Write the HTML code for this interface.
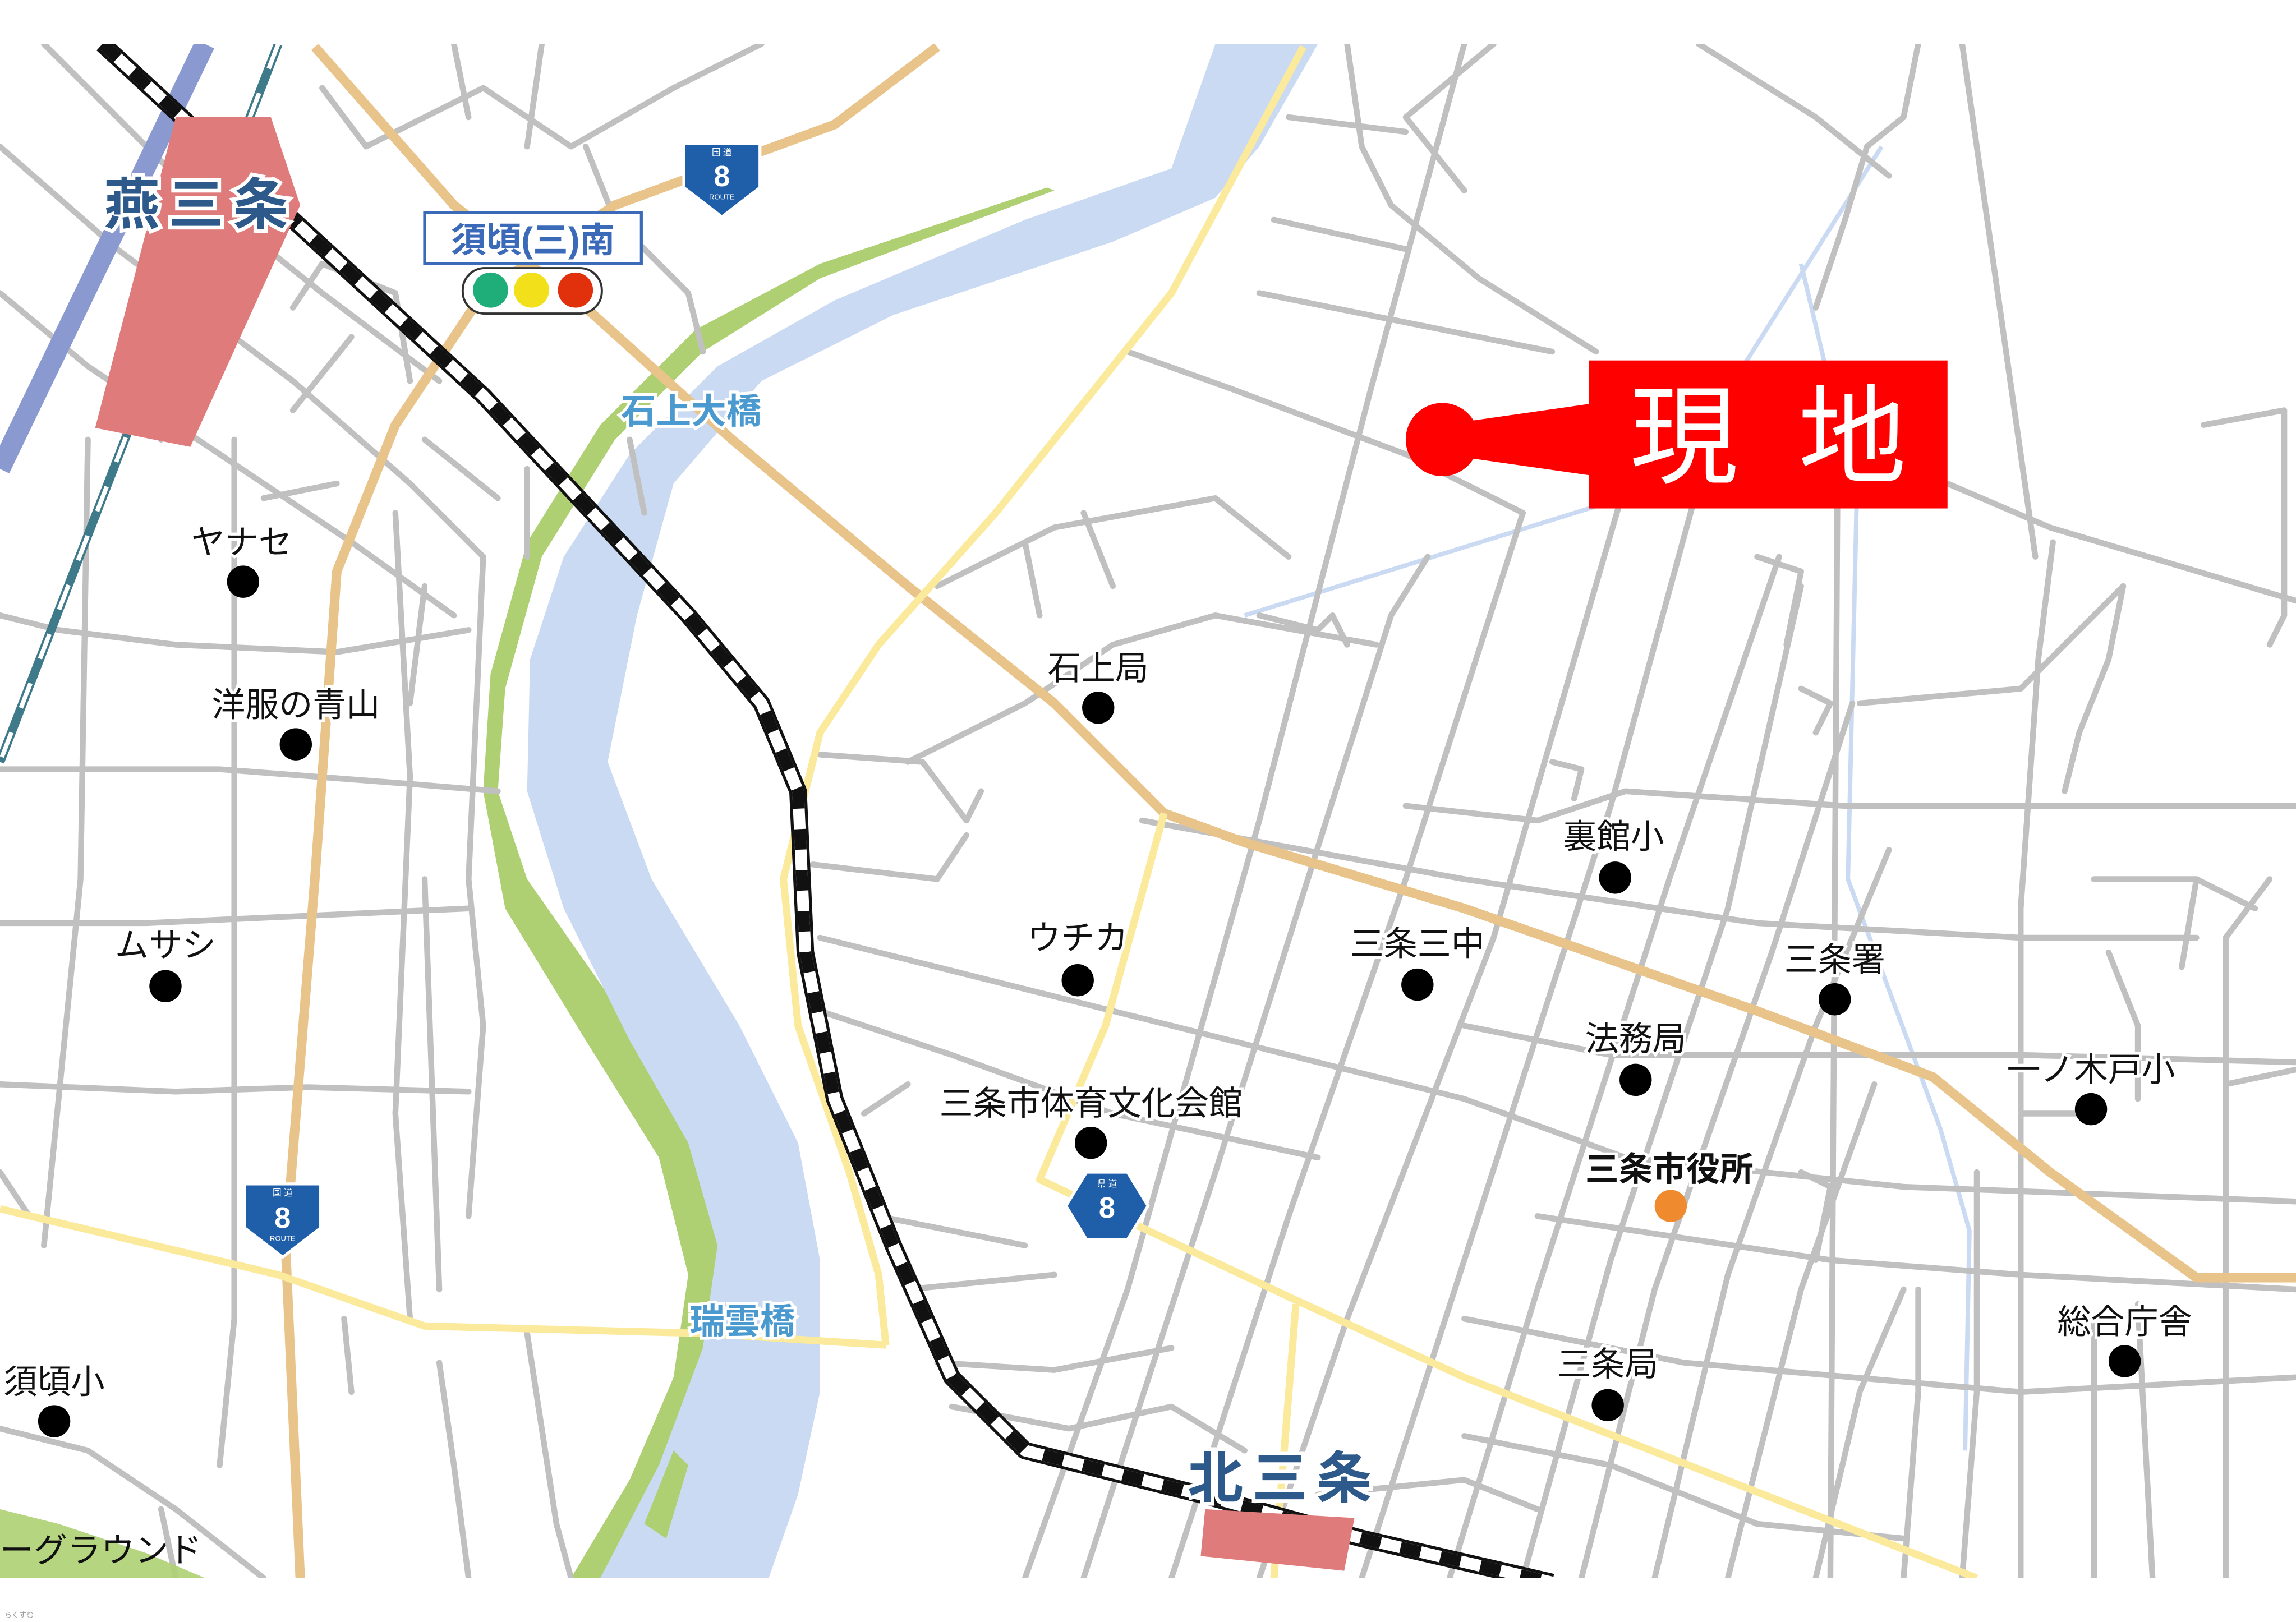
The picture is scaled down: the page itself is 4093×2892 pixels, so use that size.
<!DOCTYPE html>
<html><head><meta charset="utf-8"><style>
html,body{margin:0;padding:0;background:#fff;}
svg{display:block}
text{font-family:"Liberation Sans","Noto Sans CJK JP",sans-serif;}
</style></head><body>
<svg width="4093" height="2892" viewBox="0 0 1568 1107" preserveAspectRatio="none" xmlns="http://www.w3.org/2000/svg">
<rect width="1568" height="1107" fill="#fff"/>
<defs><clipPath id="c"><rect x="0" y="30" width="1568" height="1047"/></clipPath></defs>
<g clip-path="url(#c)">
<path d="M720,130 L560,190 L480,240 L420,300 L370,380 L345,470 L340,540 L360,600 L430,700 L480,780 L500,860 L495,950 L470,1020 L440,1077 L390,1077 L430,1010 L460,940 L470,870 L450,790 L400,710 L345,620 L330,540 L335,460 L360,370 L410,290 L475,225 L560,180 L715,128 Z" fill="#aed072"/>
<path d="M830,30 L900,30 L860,100 L830,135 L760,165 L610,215 L520,260 L460,330 L435,420 L415,520 L445,600 L505,700 L545,780 L560,860 L560,950 L545,1020 L525,1077 L410,1077 L450,1000 L480,920 L490,850 L470,780 L430,710 L385,620 L360,540 L362,450 L385,380 L430,310 L490,250 L570,205 L700,150 L800,115 Z" fill="#c9daf2"/>
<path d="M440,1040 L460,990 L470,1000 L455,1050 Z" fill="#aed072"/>
<g stroke="#c9daf2" stroke-width="3" fill="none">
<path d="M1285,100 L1140,330 L850,420"/>
<path d="M1230,180 L1268,340 L1262,600 L1325,770 L1345,840 L1342,990"/>
</g>
<g stroke="#c0c0c0" stroke-width="4" fill="none" stroke-linecap="round" stroke-linejoin="round">
<path d="M0,100 L80,170 L200,260 L280,330 L330,380"/>
<path d="M0,200 L60,250 L150,310 L240,370 L310,420"/>
<path d="M30,30 L120,120 L220,200 L300,260"/>
<path d="M0,420 L40,430 L120,440 L230,445 L320,430"/>
<path d="M0,525 L150,525 L280,535 L340,540"/>
<path d="M0,630 L100,630 L210,625 L320,620"/>
<path d="M0,740 L120,745 L210,742 L320,745"/>
<path d="M0,800 L20,830"/>
<path d="M0,975 L60,990 L120,1030 L180,1077"/>
<path d="M120,1077 L110,1030"/>
<path d="M300,930 L310,1000 L320,1077"/>
<path d="M360,910 L380,1040 L390,1077"/>
<path d="M235,900 L240,950"/>
<path d="M160,300 L160,900 L150,1000"/>
<path d="M270,350 L280,530 L270,760 L280,900"/>
<path d="M100,170 L110,300"/>
<path d="M330,380 L320,600 L330,700 L320,830"/>
<path d="M290,600 L300,880"/>
<path d="M60,300 L55,600 L30,850"/>
<path d="M220,60 L250,100 L330,60 L390,100 L460,60 L520,30"/>
<path d="M310,30 L320,80 M370,30 L360,100 M400,100 L420,150 L470,200 L480,240"/>
<path d="M200,210 L220,180 L270,200 L280,260 M240,230 L200,280"/>
<path d="M180,340 L230,330 M290,300 L340,340"/>
<path d="M700,1077 L770,880 L860,560 L935,270 L1000,30"/>
<path d="M740,1077 L830,800 L950,420 L975,380"/>
<path d="M800,1077 L880,830 L960,600 L1040,350"/>
<path d="M860,1077 L920,900 L1020,640 L1110,330"/>
<path d="M930,1077 L1000,860 L1100,550 L1160,330"/>
<path d="M990,1077 L1050,880 L1140,600 L1215,380"/>
<path d="M1040,1077 L1100,860 L1180,620 L1230,400"/>
<path d="M1080,1077 L1130,880 L1210,650 L1265,480"/>
<path d="M1130,1077 L1180,870 L1240,700 L1290,580"/>
<path d="M1180,1077 L1230,880 L1280,740"/>
<path d="M1240,1077 L1270,950 L1300,880"/>
<path d="M1300,1077 L1310,950 L1310,880"/>
<path d="M1250,1077 L1255,310"/>
<path d="M1340,1077 L1350,950 L1350,800"/>
<path d="M1380,1077 L1380,620 L1392,450 L1402,370"/>
<path d="M1390,380 L1340,30"/>
<path d="M1310,30 L1300,80 L1275,100 L1260,150 L1240,210"/>
<path d="M1430,1077 L1430,900 M1470,1077 L1460,890 M1520,1077 L1520,640 L1550,600"/>
<path d="M1505,290 L1560,280 L1560,420 L1550,440"/>
<path d="M1490,660 L1500,600 L1540,620"/>
<path d="M1160,30 L1240,80 L1290,120"/>
<path d="M1020,30 L960,80 L1000,130"/>
<path d="M920,30 L930,100 L950,140 L1010,190 L1090,240"/>
<path d="M880,80 L960,90 M870,150 L960,170"/>
<path d="M860,200 L1060,240"/>
<path d="M770,240 L840,265 L960,310 L1040,350"/>
<path d="M1330,330 L1400,360 L1568,410"/>
<path d="M640,400 L720,360 L830,340 L880,380 M700,370 L710,420 M740,350 L760,400 M860,420 L900,430 L910,420 L920,440"/>
<path d="M620,520 L700,480 L760,440 L830,420 L940,440"/>
<path d="M560,515 L630,520 L660,560 L670,540 M555,590 L640,600 L660,570"/>
<path d="M560,640 L800,700 L1000,750 L1110,790 L1300,810 L1568,820"/>
<path d="M560,690 L650,720 L760,760 L900,790"/>
<path d="M590,760 L620,740 M600,830 L700,850 M620,880 L720,870 M640,930 L720,935 L800,920 M650,960 L730,975 L800,960 L850,990"/>
<path d="M780,560 L1000,600 L1200,630 L1380,640 L1500,640"/>
<path d="M960,550 L1050,560 L1110,540 L1260,550 L1380,550 L1568,550"/>
<path d="M1000,700 L1100,720 L1380,720 L1568,725"/>
<path d="M1050,830 L1250,860 L1380,870 L1568,880"/>
<path d="M1000,900 L1150,930 L1380,950 L1568,940"/>
<path d="M1000,980 L1100,1000 L1200,1040 L1300,1050"/>
<path d="M900,1020 L1000,1010 L1050,1030"/>
<path d="M1270,480 L1380,470 L1420,430 L1450,400 L1440,450 L1420,500 L1410,540"/>
<path d="M1200,380 L1230,390 L1220,440 M1230,470 L1250,480 L1240,500"/>
<path d="M1060,520 L1080,525 L1075,545"/>
<path d="M1430,600 L1500,600 M1380,760 L1420,760"/>
<path d="M1440,650 L1460,700 L1460,750"/>
<path d="M1520,740 L1568,730"/>
<path d="M1230,800 L1250,810 L1240,860"/>
<path d="M430,300 L440,350 M360,320 L360,380 M290,400 L280,480"/>
</g>
<g stroke="#e9c48a" stroke-width="6.5" fill="none" stroke-linejoin="round">
<path d="M640,32 L570,85 L420,140 L330,200 L270,290 L230,390 L215,600 L195,850 L205,1077"/>
<path d="M215,32 L310,140 L400,210 L500,300 L620,400 L720,480 L795,555 L850,575 L1000,620 L1200,690 L1320,735 L1400,800 L1500,872 L1568,872"/>
</g>
<g stroke="#fbea9b" stroke-width="5" fill="none" stroke-linejoin="round">
<path d="M890,32 L800,200 L680,350 L600,440 L560,500 L535,600 L545,700 L580,800 L600,870 L605,918"/>
<path d="M0,825 L190,870 L290,905 L480,910 L605,918"/>
<path d="M795,555 L755,700 L710,805 L880,885 L1000,940 L1350,1077"/>
<path d="M885,890 L870,1077"/>
</g>
<path d="M140,30 L0,320" stroke="#8a9ad0" stroke-width="14" fill="none"/>
<path d="M190,30 L0,520" stroke="#3f7a8a" stroke-width="6" fill="none"/>
<path d="M190,30 L0,520" stroke="#fff" stroke-width="3" stroke-dasharray="18 18" fill="none"/>
<g fill="none" stroke-linejoin="round">
<path d="M70,30 L200,150 L330,270 L470,420 L520,480 L545,540 L550,650 L570,750 L610,850 L650,940 L700,990 L820,1020 L930,1050 L1060,1080" stroke="#111" stroke-width="12"/>
<path d="M70,30 L200,150 L330,270 L470,420 L520,480 L545,540 L550,650 L570,750 L610,850 L650,940 L700,990 L820,1020 L930,1050 L1060,1080" stroke="#fff" stroke-width="8"/>
<path d="M70,30 L200,150 L330,270 L470,420 L520,480 L545,540 L550,650 L570,750 L610,850 L650,940 L700,990 L820,1020 L930,1050 L1060,1080" stroke="#111" stroke-width="8" stroke-dasharray="14 14"/>
</g>
<path d="M120,80 L185,80 L205,140 L130,305 L65,292 Z" fill="#e07b7b"/>
<path d="M823,1030 L925,1036 L918,1072 L820,1062 Z" fill="#e07b7b"/>
</g>
<circle cx="985" cy="300" r="25" fill="#f00"/>
<path d="M985,290 L1090,275 L1090,325 L985,310 Z" fill="#f00"/>
<rect x="1085" y="246" width="245" height="101" fill="#f00"/>
<text x="1150" y="324" font-size="74" fill="#fff" text-anchor="middle">現</text>
<text x="1265" y="324" font-size="74" fill="#fff" text-anchor="middle">地</text>
<g font-weight="bold" fill="#2d5a8a" stroke="#fff" stroke-width="5" paint-order="stroke" text-anchor="middle">
<text x="137" y="153" font-size="38" letter-spacing="6">燕三条</text>
<text x="877" y="1022" font-size="38" letter-spacing="6">北三条</text>
</g>
<g fill="#4a9ad0" stroke="#fff" stroke-width="4" paint-order="stroke" text-anchor="middle" font-size="24" font-weight="bold">
<text x="472" y="289">石上大橋</text>
<text x="507" y="910">瑞雲橋</text>
</g>
<rect x="290" y="145" width="148" height="35" fill="#fff" stroke="#3b6ab8" stroke-width="2"/>
<text x="364" y="172" font-size="24" font-weight="bold" fill="#3b6ab8" text-anchor="middle">須頃(三)南</text>
<rect x="316" y="183" width="95" height="31" rx="15" fill="#fff" stroke="#333" stroke-width="1.5"/>
<circle cx="335" cy="198" r="12" fill="#1fae7a"/>
<circle cx="363" cy="198" r="12" fill="#f2e01a"/>
<circle cx="393" cy="198" r="12" fill="#e0300c"/>
<g>
<path d="M467,98 L519,98 L519,128 L493,148 L467,128 Z" fill="#1f5ea8" stroke="#fff" stroke-width="2"/>
<text x="493" y="106" font-size="6" fill="#fff" text-anchor="middle">国 道</text>
<text x="493" y="127" font-size="20" font-weight="bold" fill="#fff" text-anchor="middle">8</text>
<text x="493" y="136" font-size="5" fill="#fff" text-anchor="middle">ROUTE</text>
<path d="M167,808 L219,808 L219,838 L193,858 L167,838 Z" fill="#1f5ea8" stroke="#fff" stroke-width="2"/>
<text x="193" y="816" font-size="6" fill="#fff" text-anchor="middle">国 道</text>
<text x="193" y="838" font-size="20" font-weight="bold" fill="#fff" text-anchor="middle">8</text>
<text x="193" y="847" font-size="5" fill="#fff" text-anchor="middle">ROUTE</text>
<path d="M742,800 L770,800 L784,823 L770,846 L742,846 L728,823 Z" fill="#1f5ea8" stroke="#fff" stroke-width="2"/>
<text x="756" y="810" font-size="6" fill="#fff" text-anchor="middle">県 道</text>
<text x="756" y="831" font-size="20" font-weight="bold" fill="#fff" text-anchor="middle">8</text>
</g>
<path d="M0,1030 L40,1040 L100,1060 L140,1077 L0,1077 Z" fill="#aed072" opacity="0.9"/>
<g font-size="23" fill="#111" stroke="#fff" stroke-width="4" paint-order="stroke" text-anchor="middle">
<text x="165" y="378">ヤナセ</text>
<text x="202" y="489">洋服の青山</text>
<text x="113" y="653">ムサシ</text>
<text x="37" y="951">須頃小</text>
<text x="750" y="464">石上局</text>
<text x="736" y="648">ウチカ</text>
<text x="968" y="652">三条三中</text>
<text x="1102" y="579">裏館小</text>
<text x="1253" y="663">三条署</text>
<text x="1117" y="717">法務局</text>
<text x="1428" y="738">一ノ木戸小</text>
<text x="745" y="761">三条市体育文化会館</text>
<text x="1140" y="806" font-weight="bold">三条市役所</text>
<text x="1098" y="939">三条局</text>
<text x="1451" y="910">総合庁舎</text>
</g>
<text x="0" y="1066" font-size="23" fill="#111">ーグラウンド</text>
<g fill="#000">
<circle cx="166" cy="397" r="11"/><circle cx="202" cy="508" r="11"/>
<circle cx="113" cy="673" r="11"/><circle cx="37" cy="970" r="11"/>
<circle cx="750" cy="483" r="11"/><circle cx="736" cy="669" r="11"/>
<circle cx="968" cy="672" r="11"/><circle cx="1103" cy="599" r="11"/>
<circle cx="1253" cy="682" r="11"/><circle cx="1117" cy="737" r="11"/>
<circle cx="1428" cy="757" r="11"/><circle cx="745" cy="780" r="11"/>
<circle cx="1098" cy="959" r="11"/><circle cx="1451" cy="929" r="11"/>
</g>
<circle cx="1141" cy="823" r="11" fill="#ef8a2e"/>
<text x="3" y="1104" font-size="5" fill="#999">らくすむ</text>
</svg>
</body></html>
